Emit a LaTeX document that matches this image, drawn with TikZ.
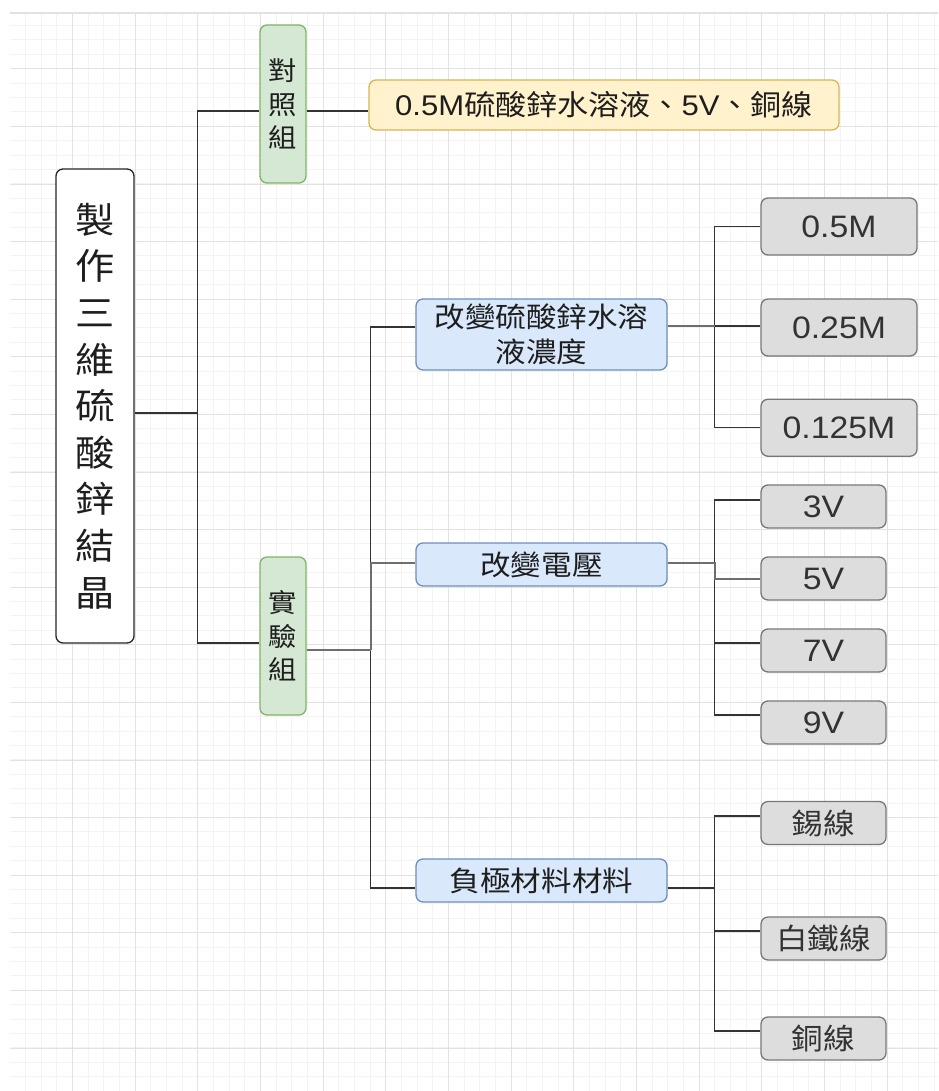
\documentclass[tikz,border=0pt]{standalone}
\usepackage{fontspec}
\setmainfont{Liberation Sans}[FakeStretch=1.09]
\newfontfamily\cjk{Noto Sans CJK TC}[FakeStretch=1.09]
\usetikzlibrary{calc}
\definecolor{gridmaj}{HTML}{E2E2E2}
\definecolor{gridmin}{HTML}{F3F3F3}
\definecolor{txt}{HTML}{1E1E1E}
\definecolor{greenfill}{HTML}{D5E8D4}
\definecolor{greenline}{HTML}{82B366}
\definecolor{yelfill}{HTML}{FFF2CC}
\definecolor{yelline}{HTML}{D6B656}
\definecolor{bluefill}{HTML}{DAE8FC}
\definecolor{blueline}{HTML}{6C8EBF}
\definecolor{grayfill}{HTML}{DDDDDD}
\definecolor{grayline}{HTML}{777777}
\definecolor{lndark}{HTML}{333333}
\definecolor{lngray}{HTML}{6E6E6E}
\tikzset{
  box/.style={draw, rounded corners=7pt, line width=1.3pt, inner sep=0pt, align=center, text=txt},
  rootbox/.style={box, fill=white, draw=black!85, minimum width=78pt, minimum height=474pt,
     font=\cjk\fontsize{36}{46.6}\selectfont},
  grpbox/.style={box, fill=greenfill, draw=greenline, minimum width=46pt, minimum height=158pt,
     font=\cjk\fontsize{26}{33.3}\selectfont},
  yelbox/.style={box, fill=yelfill, draw=yelline, minimum width=470pt, minimum height=50pt,
     font=\fontsize{28.5}{33}\selectfont},
  midbox/.style={box, fill=bluefill, draw=blueline, minimum width=251pt, minimum height=43pt,
     font=\cjk\fontsize{28}{35}\selectfont},
  leafbox/.style={box, fill=grayfill, draw=grayline, minimum height=43pt, text=black!80,
     font=\fontsize{31}{36}\selectfont},
  cjkleaf/.style={leafbox, font=\cjk\fontsize{29}{36}\selectfont},
  ln/.style={draw=lndark, line width=1.3pt},
  lng/.style={draw=lngray, line width=2pt},
}
\begin{document}
\begin{tikzpicture}[x=1pt,y=-1pt]
\useasboundingbox (0,0) rectangle (938,1091);
\fill[white] (0,0) rectangle (938,1091);
% grid
\foreach \i in {1,...,59} {
  \pgfmathsetmacro\gx{round(9.3+15.667*\i)+0.5}
  \draw[gridmin, line width=1pt] (\gx,13) -- (\gx,1091);}
\foreach \i in {1,...,75} {
  \pgfmathsetmacro\gy{round(10.7+14.4*\i)+0.5}
  \draw[gridmin, line width=1pt] (10,\gy) -- (938,\gy);}
\foreach \i in {1,...,14} {
  \pgfmathsetmacro\gx{round(9.3+62.667*\i)+0.5}
  \draw[gridmaj, line width=1pt] (\gx,13) -- (\gx,1091);}
\foreach \i in {1,...,18} {
  \pgfmathsetmacro\gy{round(10.7+57.6*\i)+0.5}
  \draw[gridmaj, line width=1pt] (10,\gy) -- (938,\gy);}
\draw[gridmaj, line width=2pt] (10,13) -- (938,13);

% nodes
\node[rootbox] (root) at (95,406) {製\\作\\三\\維\\硫\\酸\\鋅\\結\\晶};
\node[grpbox] (ctl) at (283,104) {對\\照\\組};
\node[grpbox] (exp) at (283,636) {實\\驗\\組};
\node[yelbox] (yel) at (604,105) {0.5M{\cjk 硫酸鋅水溶液、}5V{\cjk 、銅線}};
\node[midbox, minimum height=71pt] (conc) at (541.5,334.5) {改變硫酸鋅水溶\\液濃度};
\node[midbox] (volt) at (541.5,564.5) {改變電壓};
\node[midbox] (mat) at (541.5,880.5) {負極材料材料};
\node[leafbox, minimum width=156pt, minimum height=57pt] (c1) at (839,226.5) {0.5M};
\node[leafbox, minimum width=156pt, minimum height=57pt] (c2) at (839,327.5) {0.25M};
\node[leafbox, minimum width=156pt, minimum height=57pt] (c3) at (839,427.75) {0.125M};
\node[leafbox, minimum width=125pt] (v1) at (823.5,506.5) {3V};
\node[leafbox, minimum width=125pt] (v2) at (823.5,578.5) {5V};
\node[leafbox, minimum width=125pt] (v3) at (823.5,650.5) {7V};
\node[leafbox, minimum width=125pt] (v4) at (823.5,722.5) {9V};
\node[cjkleaf, minimum width=125pt] (m1) at (823.5,823) {錫線};
\node[cjkleaf, minimum width=125pt] (m2) at (823.5,938.5) {白鐵線};
\node[cjkleaf, minimum width=125pt] (m3) at (823.5,1038.5) {銅線};

% connectors
\draw[ln] ([yshift=-7pt]root.east) -- ++(63,0) |- ([yshift=-7pt]ctl.west);
\draw[ln] ([yshift=-7pt]root.east) -- ++(63,0) |- ([yshift=-7pt]exp.west);
\draw[ln] ([yshift=-7pt]ctl.east) -- ([yshift=-6pt]yel.west);

\draw[ln] ([yshift=-14pt]exp.east) -- ++(64,0) |- ([yshift=7.5pt]conc.west);
\draw[ln] ([yshift=-14pt]exp.east) -- ++(64,0) |- ([yshift=-7.5pt]mat.west);
\draw[lng] ([yshift=-14pt]exp.east) -- ++(64,0);
\draw[lng] ([yshift=-14pt]exp.east) ++(64,0) |- ([yshift=1.5pt]volt.west);

\draw[ln] ([yshift=8.5pt]conc.east) -- ++(47,0) |- (c1.west);
\draw[ln] ([yshift=8.5pt]conc.east) -- ([yshift=1.5pt]c2.west);
\draw[ln] ([yshift=8.5pt]conc.east) -- ++(47,0) |- (c3.west);
\draw[lng] ([yshift=8.5pt]conc.east) -- ++(47,0);

\draw[ln] ([yshift=1.5pt]volt.east) -- ++(47,0) |- ([yshift=6.5pt]v1.west);
\draw[ln] ([yshift=1.5pt]volt.east) -- ++(47,0) |- ([yshift=7.5pt]v3.west);
\draw[ln] ([yshift=1.5pt]volt.east) -- ++(47,0) |- ([yshift=7.5pt]v4.west);
\draw[lng] ([yshift=1.5pt]volt.east) -- ++(47,0) |- (v2.west);

\draw[ln] ([yshift=-7.5pt]mat.east) -- ++(47,0) |- ([yshift=7pt]m1.west);
\draw[ln] ([yshift=-7.5pt]mat.east) -- ++(47,0) |- ([yshift=7.5pt]m2.west);
\draw[ln] ([yshift=-7.5pt]mat.east) -- ++(47,0) |- ([yshift=7.5pt]m3.west);
\end{tikzpicture}
\end{document}
